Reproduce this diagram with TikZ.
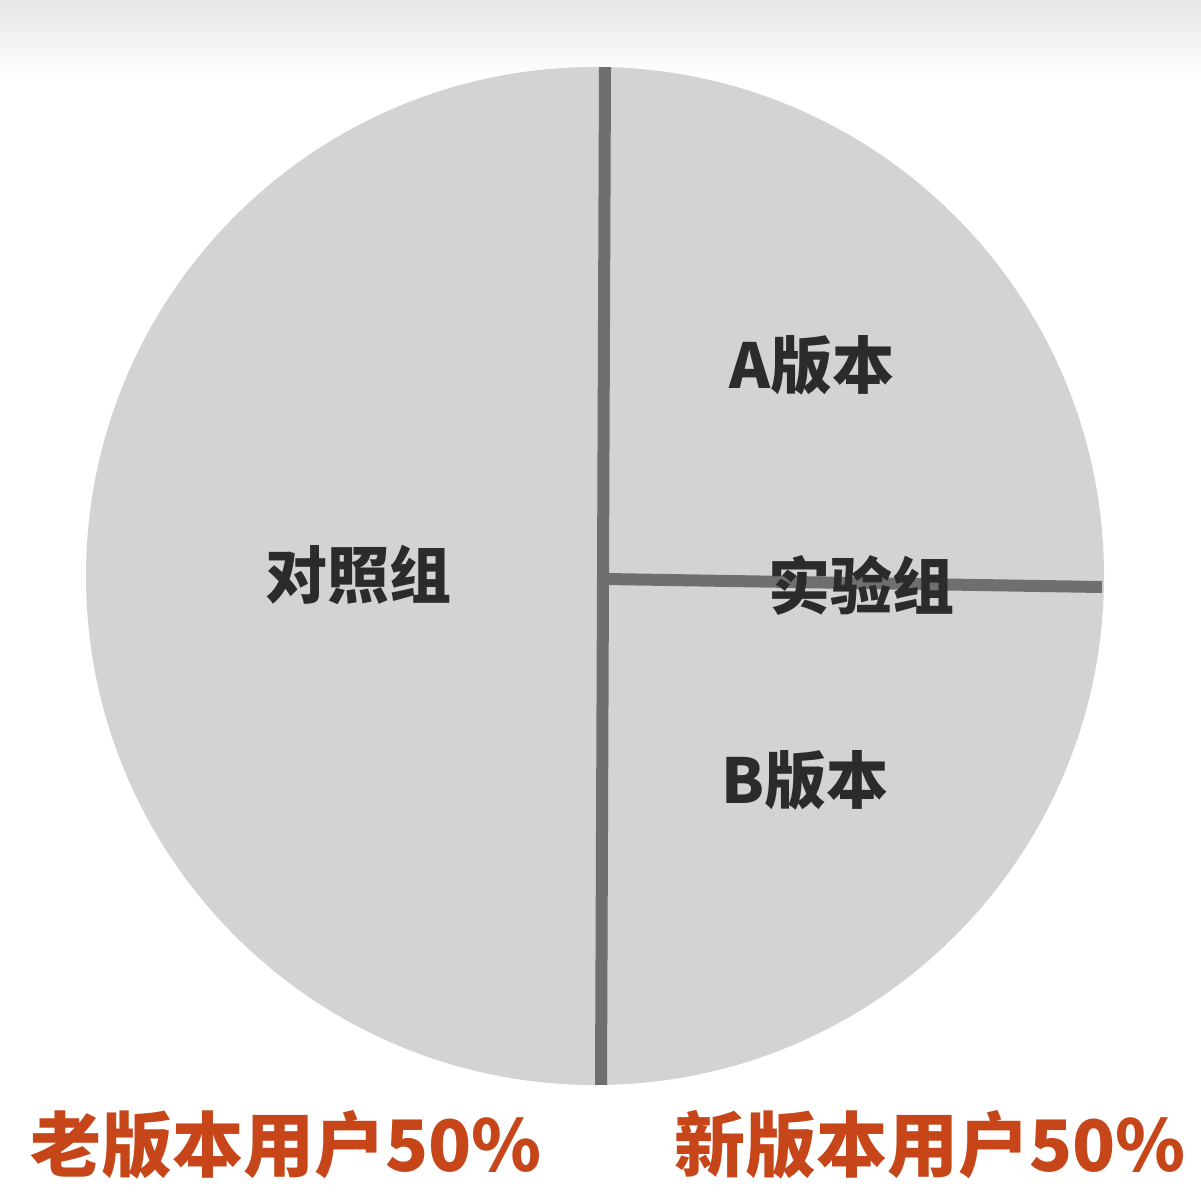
\documentclass[tikz,border=0pt]{standalone}
\usepackage{fontspec}
\newfontfamily\cjk{Noto Sans CJK SC}
\definecolor{pief}{HTML}{D3D3D3}
\definecolor{divln}{HTML}{6F6F6F}
\definecolor{lbl}{HTML}{2B2B2B}
\definecolor{orng}{HTML}{C6461A}
\definecolor{topg}{HTML}{E6E6E6}
\tikzset{
  inlabel/.style={text=lbl, font=\cjk\bfseries\fontsize{62}{66}\selectfont, inner sep=0pt},
  botlabel/.style={text=orng, font=\cjk\bfseries\fontsize{71}{76}\selectfont, inner sep=0pt},
  divider/.style={draw=divln, line width=12pt}
}
\begin{document}
\begin{tikzpicture}[x=1pt,y=-1pt]
\useasboundingbox (0,0) rectangle (1201,1204);
\fill[white] (0,0) rectangle (1201,1204);
\shade[top color=topg, bottom color=white] (0,0) rectangle (1201,78);
\fill[pief] (595,576) circle (509);
\coordinate (vtop) at (605,67);
\coordinate (vbot) at (601,1085);
\coordinate (hl) at (606,579);
\coordinate (hr) at (1102,587);
\begin{scope}
\clip (595,576) circle (509);
\draw[divider] (vtop) -- (vbot);
\draw[divider] (hl) -- (hr);
\end{scope}
\node[inlabel] (ctrl) at (358,575) {对照组};
\node[inlabel] (verA) at (812,365) {A版本};
\node[inlabel] (exp) at (861,585) {实验组};
\node[inlabel] (verB) at (805,780) {B版本};
\node[botlabel] (oldu) at (286,1145) {老版本用户50\%};
\node[botlabel] (newu) at (930,1145) {新版本用户50\%};
\end{tikzpicture}
\end{document}
